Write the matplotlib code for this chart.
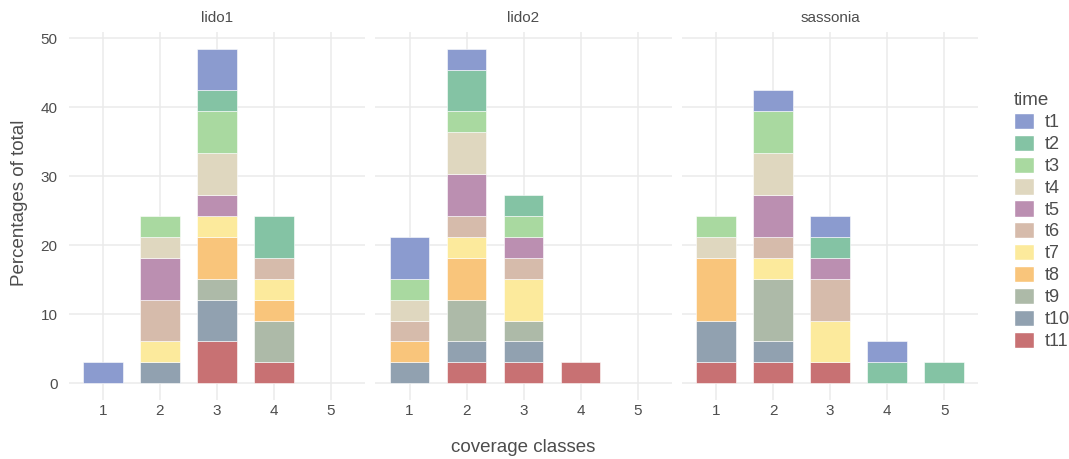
import numpy as np
import matplotlib.pyplot as plt
from matplotlib.patches import Patch

# one unit = one observation out of 33 (percent of total)
unit = 100 / 33

sites = ["lido1", "lido2", "sassonia"]
classes = [1, 2, 3, 4, 5]
times = ["t1", "t2", "t3", "t4", "t5", "t6", "t7", "t8", "t9", "t10", "t11"]
colors = ["#8b9bcf", "#84c3a4", "#a9d9a0", "#dfd7bf", "#bb8fb1",
          "#d6bbab", "#fcea9c", "#f9c57b", "#adbaa8", "#91a1b0", "#c87173"]

# counts per time (rows t1..t11) and coverage class (cols 1..5)
lido1 = [
    [1, 0, 2, 0, 0],   # t1
    [0, 0, 1, 2, 0],   # t2
    [0, 1, 2, 0, 0],   # t3
    [0, 1, 2, 0, 0],   # t4
    [0, 2, 1, 0, 0],   # t5
    [0, 2, 0, 1, 0],   # t6
    [0, 1, 1, 1, 0],   # t7
    [0, 0, 2, 1, 0],   # t8
    [0, 0, 1, 2, 0],   # t9
    [0, 1, 2, 0, 0],   # t10
    [0, 0, 2, 1, 0],   # t11
]
lido2 = [
    [2, 1, 0, 0, 0],
    [0, 2, 1, 0, 0],
    [1, 1, 1, 0, 0],
    [1, 2, 0, 0, 0],
    [0, 2, 1, 0, 0],
    [1, 1, 1, 0, 0],
    [0, 1, 2, 0, 0],
    [1, 2, 0, 0, 0],
    [0, 2, 1, 0, 0],
    [1, 1, 1, 0, 0],
    [0, 1, 1, 1, 0],
]
sassonia = [
    [0, 1, 1, 1, 0],
    [0, 0, 1, 1, 1],
    [1, 2, 0, 0, 0],
    [1, 2, 0, 0, 0],
    [0, 2, 1, 0, 0],
    [0, 1, 2, 0, 0],
    [0, 1, 2, 0, 0],
    [3, 0, 0, 0, 0],
    [0, 3, 0, 0, 0],
    [2, 1, 0, 0, 0],
    [1, 1, 1, 0, 0],
]
data = {"lido1": lido1, "lido2": lido2, "sassonia": sassonia}

plt.rcParams['font.family'] = ['Liberation Sans', 'DejaVu Sans']

fig = plt.figure(figsize=(10.69, 4.59), dpi=100)
W, H = 1069, 459
lefts = [68.6, 375.3, 682.0]
pw = 296.4
top, bottom = 32, 400

tick_col = "#4d4d4d"
for k, site in enumerate(sites):
    ax = fig.add_axes([lefts[k] / W, 1 - bottom / H, pw / W, (bottom - top) / H])
    counts = np.array(data[site], dtype=float) * unit
    base = np.zeros(len(classes))
    # t11 at the bottom, t1 on top
    for i in range(len(times) - 1, -1, -1):
        vals = counts[i]
        mask = vals > 0
        ax.bar(np.array(classes)[mask], vals[mask], bottom=base[mask], width=0.7,
               color=colors[i], edgecolor="white", linewidth=0.4, zorder=3)
        base += vals
    ax.set_xlim(0.4, 5.6)
    ax.set_ylim(-2.42, 50.9)
    ax.set_xticks(classes)
    ax.set_yticks([0, 10, 20, 30, 40, 50])
    ax.grid(True, color="#ebebeb", linewidth=1.1, zorder=0)
    for s in ax.spines.values():
        s.set_visible(False)
    ax.tick_params(length=0, colors=tick_col, labelsize=11)
    ax.tick_params(axis="x", pad=3)
    ax.tick_params(axis="y", pad=8)
    if k > 0:
        ax.set_yticklabels([])
    ax.set_title(site, fontsize=11, color="#4d4d4d", pad=7)

fig.text(523 / W, 1 - 447 / H, "coverage classes", ha="center", va="center",
         fontsize=13.5, color="#4d4d4d")
fig.text(20 / W, 1 - 203 / H, "Percentages of total", ha="center", va="center",
         rotation=90, fontsize=13.5, color="#4d4d4d")

handles = [Patch(facecolor=c, edgecolor="white", label=t) for c, t in zip(colors, times)]
leg = fig.legend(handles=handles, title="time", loc="upper left",
                 bbox_to_anchor=(998 / W, 1 - 76 / H), frameon=False,
                 fontsize=13, title_fontsize=13.5, handlelength=1.1, handleheight=1.0,
                 labelspacing=0.2, handletextpad=0.6, alignment="left")
leg.get_title().set_color("#4d4d4d")
for t in leg.get_texts():
    t.set_color("#4d4d4d")

fig.savefig("out.png", dpi=100)
